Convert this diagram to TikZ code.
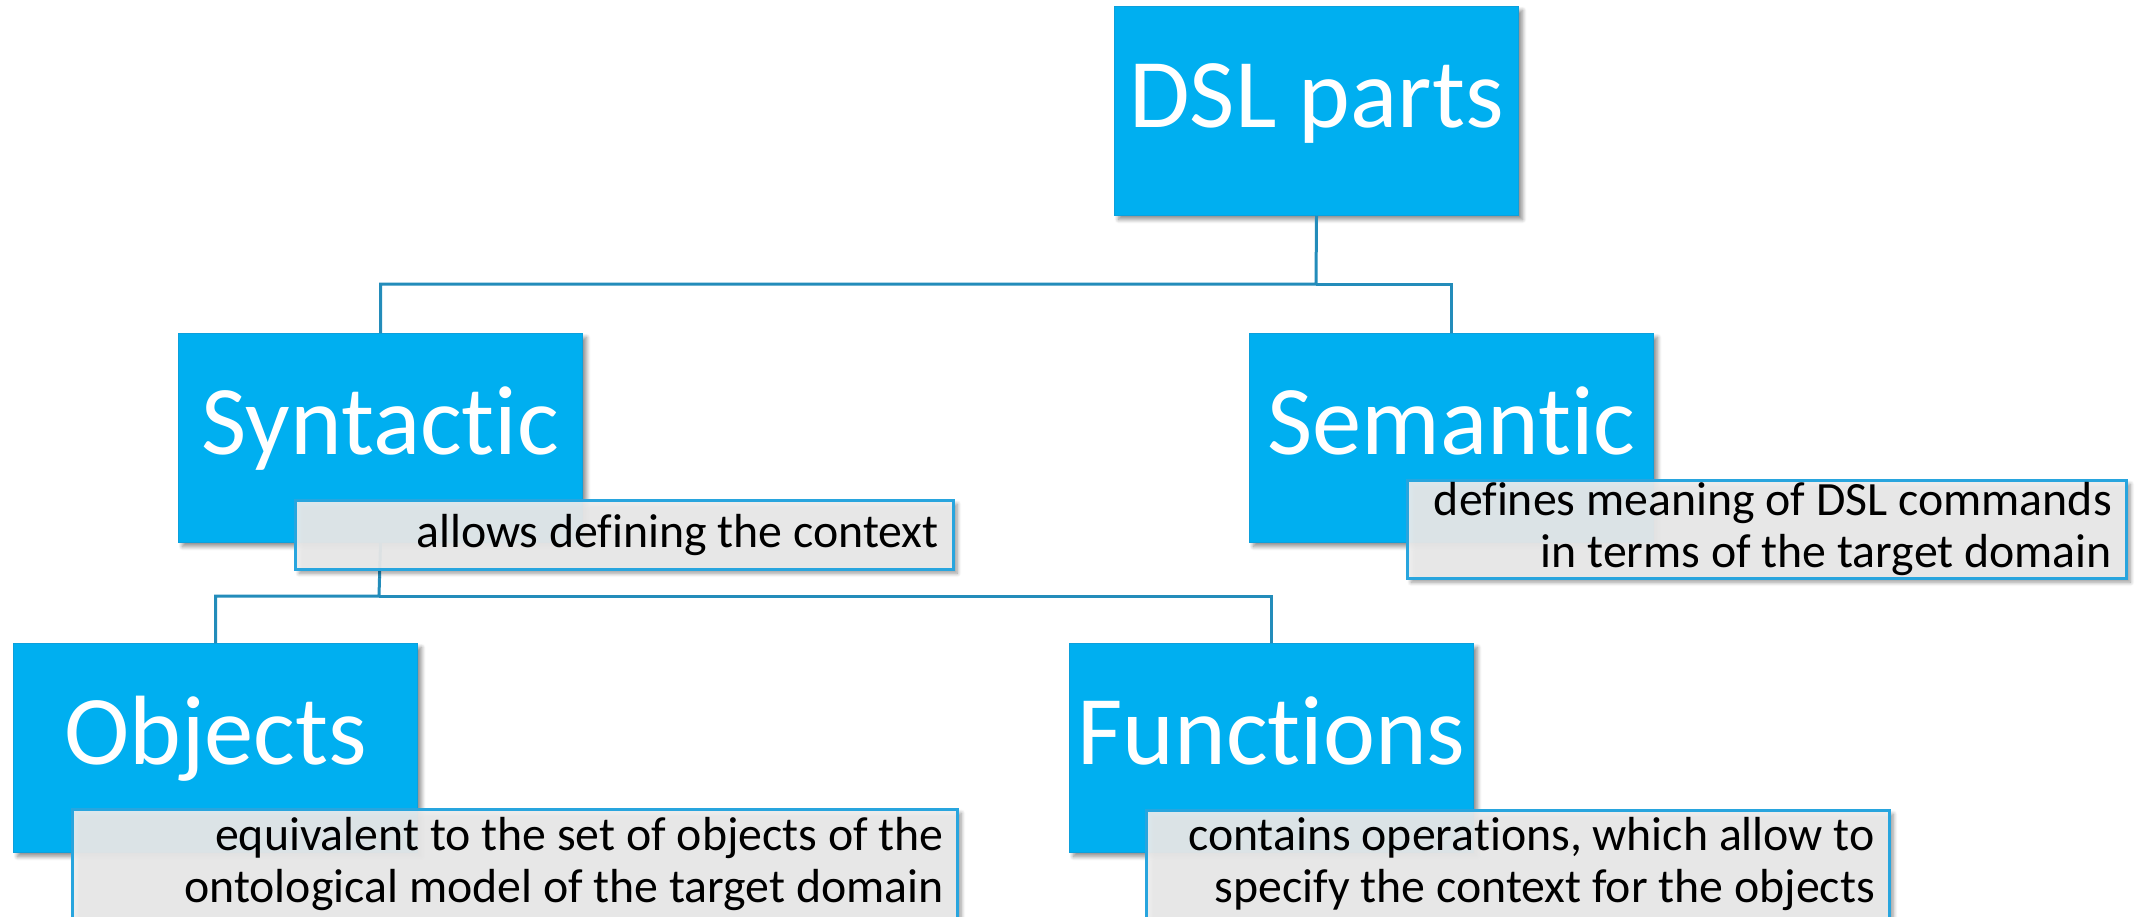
\documentclass[tikz,border=0pt]{standalone}
\usepackage{fontspec}
\setmainfont{Carlito}[Ligatures={NoCommon}]
\usetikzlibrary{shadows.blur}

\definecolor{boxblue}{RGB}{0,175,240}
\definecolor{boxedge}{RGB}{12,160,220}
\definecolor{descfill}{RGB}{238,238,238}
\definecolor{descedge}{RGB}{40,165,222}
\definecolor{wire}{RGB}{35,140,186}

\newcommand{\firstline}{\rule{0pt}{37pt}}

\tikzset{
  partbox/.style={rectangle, anchor=north west, fill=boxblue, draw=boxedge,
    line width=1pt, minimum width=404pt, minimum height=209pt, inner sep=0pt,
    text=white, font=\fontsize{98.5}{112}\selectfont,
    text height=121pt, text depth=88pt,
    blur shadow={shadow xshift=4pt, shadow yshift=-4pt, shadow opacity=45,
      shadow blur steps=8, shadow blur radius=4pt}},
  descbox/.style={rectangle, anchor=north west, fill=descfill, fill opacity=0.92,
    draw=descedge, line width=2.5pt, inner sep=0pt,
    blur shadow={shadow xshift=4pt, shadow yshift=-4pt, shadow opacity=45,
      shadow blur steps=8, shadow blur radius=4pt}},
  desctext/.style={inner sep=0pt, align=right, text=black,
    font=\fontsize{47.8}{52.5}\selectfont},
  wire/.style={draw=wire, line width=3pt}
}

\begin{document}
\begin{tikzpicture}[x=1pt, y=-1pt]
\useasboundingbox (0,0) rectangle (2139,916);
\clip (0,0) rectangle (2139,916);

% blue part boxes
\node[partbox] (dsl) at (1114,6)  {DSL parts};
\node[partbox] (syn) at (178,333) {Syntactic};
\node[partbox] (sem) at (1249,333) {Semantic};
\node[partbox] (obj) at (13,643)  {Objects};
\node[partbox] (fun) at (1069,643) {Functions};

% tree connectors
\coordinate (busA) at (1316,284);
\coordinate (busB) at (379,596);
\draw[wire] (dsl.south) -- (busA) -| (syn.north);
\draw[wire] (busA) -| (sem.north);
\draw[wire] (syn.south) -- (busB) -| (obj.north);
\draw[wire] (busB) -| (fun.north);

% description panels
\node[descbox, minimum width=658pt, minimum height=69pt] (syndesc) at (294,499) {};
\node[descbox, minimum width=719pt, minimum height=98pt] (semdesc) at (1406,479) {};
\node[descbox, minimum width=885pt, minimum height=160pt] (objdesc) at (71,808) {};
\node[descbox, minimum width=743pt, minimum height=160pt] (fundesc) at (1145,809) {};

\node[desctext, anchor=base east] (syntext) at (939,547) {allows defining the context};
\node[desctext, anchor=north east] (semtext) at (2112,478)
  {\firstline defines meaning of DSL commands\\in terms of the target domain};
\node[desctext, anchor=north east] (objtext) at (944,813)
  {\firstline equivalent to the set of objects of the\\ontological model of the target domain};
\node[desctext, anchor=north east] (funtext) at (1875,813)
  {\firstline contains operations, which allow to\\specify the context for the objects};
\end{tikzpicture}
\end{document}
